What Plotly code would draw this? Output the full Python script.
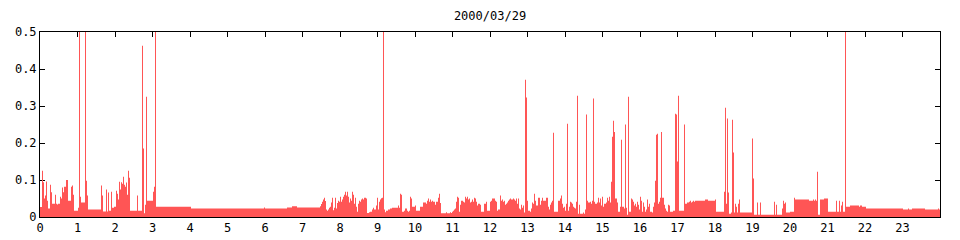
import numpy as np
import plotly.graph_objects as go

# Sampling: one sample per 1.6 minutes (900 samples per day)
SAMPLES_PER_DAY = 900
DATE_LABEL = "2000/03/29"

# Run-length encoded series: run start (sample index) and value
# (off-scale spikes are recorded at the top of the axis, 0.5)
run_start = [
    0, 2, 3, 4, 5, 6, 7, 8, 10, 11, 12, 15, 16, 17, 18, 20, 21, 22, 23, 24, 26, 28, 31, 32, 33, 34, 38, 39, 40, 41,
    45, 46, 47, 48, 61, 62, 63, 66, 67, 68, 69, 71, 72, 74, 76, 77, 78, 79, 80, 81, 82, 83, 84, 85, 86, 87, 88, 89,
    90, 97, 98, 102, 103, 104, 105, 106, 107, 113, 114, 115, 116, 151, 224, 225, 247, 252, 257,
    280, 281, 282, 283, 284, 285, 286, 287, 288, 289, 290, 291, 292, 293, 294, 295, 296, 297, 298, 299,
    300, 301, 302, 303, 304, 305, 306, 307, 308, 309, 310, 311, 312, 313, 314, 315, 316, 317, 318, 319,
    320, 321, 322, 323, 324, 326, 327, 329, 330, 332, 333, 334, 336, 337, 338, 339, 340, 341, 342, 343,
    344, 345, 346, 348, 350, 352, 358, 359, 360, 361, 362, 364, 365, 367, 368, 369, 370, 371, 372, 375,
    376, 380, 383, 386, 387, 388, 389, 390, 391, 392, 393, 395, 396, 398, 399, 400, 401, 406, 407, 410,
    411, 412, 413, 414, 415, 416, 417, 418, 419, 420, 421, 423, 424, 425, 426, 427, 428, 429, 430, 431,
    432, 433, 434, 435, 436, 437, 438, 440, 441, 444, 446, 447, 450, 451, 452, 455, 456, 457, 458, 460,
    461, 462, 463, 464, 465, 466, 467, 468, 469, 470, 471, 473, 474, 475, 476, 477, 478, 479, 480, 481,
    482, 483, 484, 485, 486, 487, 488, 490, 491, 492, 493, 494, 495, 496, 498, 500, 501, 502, 503, 506,
    508, 509, 510, 511, 512, 513, 514, 518, 520, 521, 522, 523, 524, 525, 526, 527, 528, 529, 530, 531,
    532, 533, 534, 535, 536, 537, 538, 539, 540, 543, 544, 545, 546, 547, 548, 550, 551, 552, 553, 554,
    555, 557, 558, 559, 560, 561, 562, 563, 564, 566, 567, 568, 569, 570, 571, 572, 573, 574, 575, 577,
    578, 580, 581, 582, 584, 585, 586, 587, 588, 589, 591, 592, 593, 594, 595, 596, 597, 598, 599, 600,
    601, 602, 603, 604, 605, 606, 607, 608, 609, 610, 612, 613, 614, 615, 616, 617, 618, 619, 620, 621,
    622, 624, 625, 626, 627, 628, 629, 630, 633, 635, 636, 637, 638, 639, 644, 645, 647, 649, 650, 651,
    652, 653, 654, 655, 665, 668, 675, 676, 684, 685, 686, 687, 688, 689, 691, 692, 693, 694, 695, 696,
    697, 698, 699, 700, 712, 713, 714, 717, 718, 720, 721, 734, 735, 736, 737, 742, 743, 744, 745, 746,
    750, 754, 755, 769, 773, 774, 775, 776, 777, 778, 780, 784, 788, 796, 797, 799, 800, 801, 802, 803,
    805, 806, 810, 819, 820, 822, 826, 863, 868, 869, 872, 885, 898, 899,
]
run_value = [
    0.027, 0.125, 0.094, 0.05, 0.058, 0.096, 0.044, 0.023, 0.087, 0.067, 0.036, 0.06, 0.036, 0.034, 0.036, 0.055, 0.05, 0.08, 0.067, 0.082, 0.1, 0.044, 0.082, 0.085, 0.06, 0.017, 0.025, 0.5, 0.055, 0.039,
    0.5, 0.098, 0.058, 0.02, 0.085, 0.058, 0.015, 0.074, 0.015, 0.066, 0.017, 0.068, 0.025, 0.028, 0.071, 0.063, 0.047, 0.095, 0.074, 0.094, 0.09, 0.109, 0.087, 0.082, 0.093, 0.06, 0.125, 0.106,
    0.017, 0.058, 0.017, 0.463, 0.185, 0.01, 0.033, 0.325, 0.044, 0.068, 0.082, 0.5, 0.028, 0.023, 0.026, 0.023, 0.026, 0.029, 0.026,
    0.029, 0.035, 0.041, 0.047, 0.052, 0.043, 0.02, 0.017, 0.02, 0.025, 0.028, 0.039, 0.052, 0.018, 0.025, 0.052, 0.023, 0.038, 0.044, 0.041,
    0.055, 0.041, 0.047, 0.055, 0.06, 0.068, 0.058, 0.068, 0.055, 0.039, 0.05, 0.044, 0.068, 0.06, 0.036, 0.052, 0.028, 0.014, 0.036, 0.044,
    0.041, 0.047, 0.05, 0.047, 0.052, 0.05, 0.011, 0.013, 0.014, 0.02, 0.025, 0.02, 0.031, 0.052, 0.02, 0.041, 0.047, 0.051, 0.052, 0.5,
    0.02, 0.013, 0.017, 0.02, 0.023, 0.025, 0.031, 0.025, 0.063, 0.06, 0.014, 0.017, 0.023, 0.017, 0.014, 0.017, 0.055, 0.05, 0.028, 0.031,
    0.017, 0.028, 0.039, 0.036, 0.044, 0.05, 0.041, 0.047, 0.041, 0.044, 0.041, 0.033, 0.041, 0.052, 0.063, 0.038, 0.01, 0.013, 0.01, 0.013,
    0.011, 0.014, 0.017, 0.02, 0.023, 0.041, 0.055, 0.052, 0.014, 0.033, 0.044, 0.041, 0.039, 0.055, 0.05, 0.055, 0.047, 0.05, 0.039, 0.041,
    0.047, 0.041, 0.052, 0.05, 0.041, 0.031, 0.036, 0.033, 0.014, 0.036, 0.041, 0.017, 0.041, 0.044, 0.05, 0.044, 0.041, 0.017, 0.02, 0.058,
    0.044, 0.047, 0.041, 0.044, 0.033, 0.036, 0.039, 0.044, 0.047, 0.05, 0.047, 0.05, 0.047, 0.044, 0.05, 0.036, 0.05, 0.023, 0.02, 0.033,
    0.025, 0.031, 0.012, 0.371, 0.323, 0.044, 0.017, 0.014, 0.023, 0.039, 0.036, 0.063, 0.044, 0.031, 0.052, 0.033, 0.044, 0.052, 0.044, 0.052,
    0.028, 0.02, 0.033, 0.039, 0.044, 0.228, 0.014, 0.044, 0.05, 0.058, 0.036, 0.025, 0.028, 0.017, 0.036, 0.252, 0.017, 0.028, 0.041, 0.039,
    0.036, 0.028, 0.025, 0.023, 0.041, 0.328, 0.009, 0.033, 0.009, 0.012, 0.009, 0.02, 0.277, 0.044, 0.039, 0.041, 0.036, 0.044, 0.32, 0.041,
    0.036, 0.039, 0.052, 0.039, 0.05, 0.031, 0.055, 0.028, 0.036, 0.039, 0.052, 0.044, 0.055, 0.039, 0.095, 0.217, 0.26, 0.23, 0.05, 0.039,
    0.014, 0.028, 0.209, 0.028, 0.023, 0.25, 0.025, 0.006, 0.325, 0.014, 0.05, 0.047, 0.041, 0.031, 0.036, 0.028, 0.041, 0.033, 0.02, 0.055,
    0.044, 0.014, 0.039, 0.028, 0.014, 0.02, 0.047, 0.028, 0.036, 0.014, 0.012, 0.028, 0.039, 0.098, 0.222, 0.225, 0.036, 0.041, 0.052, 0.23,
    0.052, 0.033, 0.023, 0.017, 0.014, 0.033, 0.031, 0.014, 0.017, 0.279, 0.277, 0.15, 0.328, 0.017, 0.25, 0.036, 0.039, 0.041, 0.044, 0.039,
    0.041, 0.044, 0.041, 0.044, 0.047, 0.044, 0.047, 0.014, 0.068, 0.295, 0.036, 0.266, 0.066, 0.009, 0.012, 0.263, 0.174, 0.012, 0.036, 0.028,
    0.012, 0.036, 0.047, 0.012, 0.212, 0.104, 0.006, 0.039, 0.006, 0.039, 0.006, 0.041, 0.006, 0.033, 0.006, 0.023, 0.044, 0.036, 0.039, 0.012,
    0.014, 0.052, 0.047, 0.044, 0.047, 0.044, 0.047, 0.044, 0.122, 0.006, 0.047, 0.05, 0.014, 0.044, 0.014, 0.044, 0.014, 0.031, 0.041, 0.014,
    0.5, 0.028, 0.031, 0.028, 0.031, 0.028, 0.023, 0.02, 0.023, 0.02, 0.023, 0.02, 0.023, 0.02,
]

hour_ticks = list(range(0, 24))
y_ticks = [0, 0.1, 0.2, 0.3, 0.4, 0.5]
y_tick_text = ["0", "0.1", "0.2", "0.3", "0.4", "0.5"]

hours_per_sample = 24.0 / SAMPLES_PER_DAY
x = [s * hours_per_sample for s in run_start] + [24.0]
y = list(run_value) + [run_value[-1]]

RED = "#ff5555"
FONT = "DejaVu Sans Mono"

fig = go.Figure()
fig.add_trace(go.Scatter(
    x=x, y=y, mode="lines", line=dict(shape="hv", color=RED, width=0),
    fill="tozeroy", fillcolor=RED, hoverinfo="skip", showlegend=False,
))

fig.update_layout(
    template="none",
    width=960, height=240,
    margin=dict(l=40, r=20, t=32, b=23, autoexpand=False),
    paper_bgcolor="white", plot_bgcolor="white",
    font=dict(family=FONT, size=12, color="black"),
    title=dict(text=DATE_LABEL, x=0.5, xref="paper", y=1 - 15.5 / 240, yref="container",
               yanchor="middle", xanchor="center", font=dict(family=FONT, size=12, color="black")),
    showlegend=False,
)
fig.update_xaxes(
    range=[0, 24], tickvals=hour_ticks, ticktext=[str(h) for h in hour_ticks],
    ticks="inside", ticklen=5, tickwidth=1, tickcolor="black",
    showline=True, linecolor="black", linewidth=1, mirror="allticks",
    showgrid=False, zeroline=False, layer="below traces", automargin=False,
    tickfont=dict(family=FONT, size=12, color="black"),
)
fig.update_yaxes(
    range=[0, 0.5], tickvals=y_ticks, ticktext=y_tick_text,
    ticks="inside", ticklen=5, tickwidth=1, tickcolor="black",
    showline=True, linecolor="black", linewidth=1, mirror="allticks",
    showgrid=False, zeroline=False, layer="below traces", automargin=False,
    tickfont=dict(family=FONT, size=12, color="black"),
)

fig.write_html("out.html")
